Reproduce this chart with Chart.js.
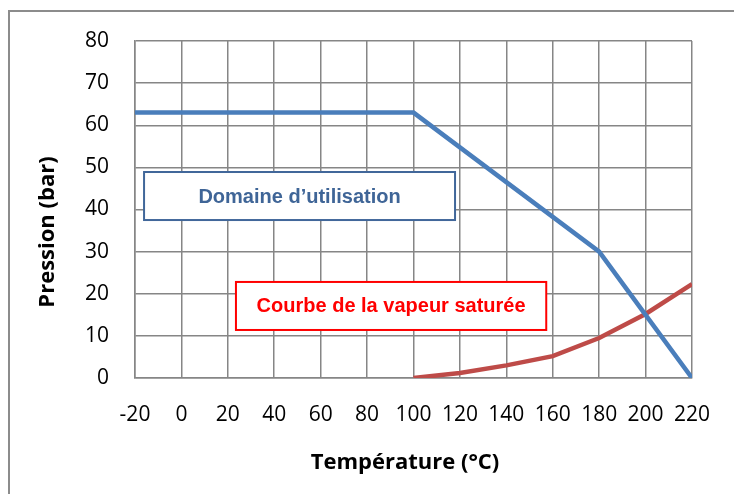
<!DOCTYPE html>
<html>
<head>
<meta charset="utf-8">
<script src="https://cdn.jsdelivr.net/npm/chart.js@4.4.1/dist/chart.umd.min.js"></script>
<style>
  html, body { margin: 0; padding: 0; background: #fff; overflow: hidden; }
  #wrap { position: relative; width: 734px; height: 494px; }
  #frame { position: absolute; left: 8px; top: 10px; width: 800px; height: 600px; border: 2px solid #8c8c8c; box-sizing: border-box; }
  canvas { position: absolute; left: 0; top: 0; }
</style>
</head>
<body>
<div id="wrap">
  <div id="frame"></div>
  <canvas id="chart" width="734" height="494"></canvas>
</div>
<script>
const temperatures = [-20, 0, 20, 40, 60, 80, 100, 120, 140, 160, 180, 200, 220];
const pressionLimite = [63, 63, 63, 63, 63, 63, 63, 54.75, 46.5, 38.25, 30, 15, 0];
const pressionVapeur = [null, null, null, null, null, null, 0, 1.2, 3, 5.2, 9.5, 15.2, 22.3];
const yTicks = [0, 10, 20, 30, 40, 50, 60, 70, 80];
const xTitle = 'Température (°C)';
const yTitle = 'Pression (bar)';

const toPoints = (vals) => temperatures.map((t, i) => ({ x: t, y: vals[i] })).filter(p => p.y !== null);

// encadrés de texte (coordonnées dans l'espace des données)
const labelBoxes = [
  { text: 'Domaine d\u2019utilisation', x0: -16.1, x1: 117.9, y0: 48.9, y1: 37.5, color: '#3f6597', border: '#41679a' },
  { text: 'Courbe de la vapeur saturée', x0: 23.5, x1: 157.2, y0: 22.8, y1: 11.4, color: '#ff0000', border: '#ff0000' }
];

const boxPlugin = {
  id: 'boxes',
  afterDatasetsDraw(chart) {
    const { ctx, scales: { x, y } } = chart;
    ctx.save();
    labelBoxes.forEach(b => {
      const l = x.getPixelForValue(b.x0), r = x.getPixelForValue(b.x1);
      const t = y.getPixelForValue(b.y0), bt = y.getPixelForValue(b.y1);
      ctx.fillStyle = '#fff';
      ctx.fillRect(l, t, r - l, bt - t);
      ctx.strokeStyle = b.border;
      ctx.lineWidth = 2;
      ctx.strokeRect(l, t, r - l, bt - t);
      ctx.fillStyle = b.color;
      ctx.font = 'bold 20px "Liberation Sans Narrow", "Arial Narrow", "Liberation Sans", sans-serif';
      ctx.textAlign = 'center';
      ctx.textBaseline = 'middle';
      ctx.fillText(b.text, (l + r) / 2, (t + bt) / 2 + 1);
    });
    ctx.restore();
  }
};

// titres des axes, placés comme dans Excel (un peu décalés du centre)
const axisTitlePlugin = {
  id: 'axisTitles',
  afterDraw(chart) {
    const { ctx, chartArea } = chart;
    ctx.save();
    ctx.fillStyle = '#000';
    ctx.font = 'bold 22px "Open Sans", sans-serif';
    ctx.textAlign = 'center';
    ctx.textBaseline = 'middle';
    ctx.fillText(xTitle, chartArea.left + 270, 463);
    ctx.translate(48, chartArea.top + 191);
    ctx.rotate(-Math.PI / 2);
    ctx.fillText(yTitle, 0, 0);
    ctx.restore();
  }
};

const tickFont = { family: '"Open Sans", sans-serif', size: 21 };

new Chart(document.getElementById('chart'), {
  type: 'line',
  data: {
    datasets: [
      { label: 'Domaine d\u2019utilisation', data: toPoints(pressionLimite), borderColor: '#4a7ebb', borderWidth: 4.5, pointRadius: 0, tension: 0 },
      { label: 'Courbe de la vapeur saturée', data: toPoints(pressionVapeur), borderColor: '#be4b48', borderWidth: 4.5, pointRadius: 0, tension: 0 }
    ]
  },
  options: {
    responsive: false,
    animation: false,
    layout: { padding: { left: 0, top: 41, right: 42, bottom: 0 } },
    plugins: { legend: { display: false }, tooltip: { enabled: false } },
    scales: {
      x: {
        type: 'linear', min: -20, max: 220,
        afterBuildTicks: (s) => { s.ticks = temperatures.map(v => ({ value: v })); },
        afterFit: (s) => { s.height = 116; },
        grid: { color: '#868686', lineWidth: 1.5, drawTicks: false },
        border: { color: '#868686', width: 1.5 },
        ticks: { color: '#000', font: tickFont, padding: 24, autoSkip: false, maxRotation: 0 }
      },
      y: {
        min: 0, max: 80,
        afterBuildTicks: (s) => { s.ticks = yTicks.map(v => ({ value: v })); },
        afterFit: (s) => { s.width = 135; },
        grid: { color: '#868686', lineWidth: 1.5, drawTicks: false },
        border: { color: '#868686', width: 1.5 },
        ticks: { color: '#000', font: tickFont, padding: 26 }
      }
    }
  },
  plugins: [boxPlugin, axisTitlePlugin]
});
</script>
</body>
</html>
